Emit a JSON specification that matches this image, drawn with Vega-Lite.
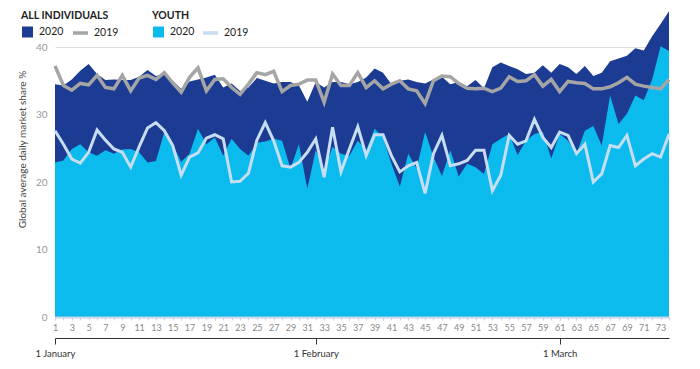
{
  "$schema": "https://vega.github.io/schema/vega-lite/v6.json",
  "width": 614,
  "height": 270,
  "autosize": {"type": "none"},
  "padding": {"left": 55, "top": 47, "right": 31, "bottom": 52},
  "config": {
    "view": {"stroke": null},
    "font": "Lato",
    "legend": {
      "padding": 0,
      "orient": "none",
      "direction": "horizontal",
      "titleFont": "Lato",
      "titleFontSize": 10.5,
      "titleFontWeight": "bold",
      "titleColor": "#222222",
      "titlePadding": 2,
      "labelFont": "Lato",
      "labelFontSize": 10.5,
      "labelColor": "#222222",
      "labelOffset": 5,
      "symbolOpacity": 1
    }
  },
  "data": {"values": [
    {"day": 1, "all2020": 34.5, "youth2020": 22.9, "all2019": 37.2, "youth2019": 27.6},
    {"day": 2, "all2020": 34.3, "youth2020": 23.2, "all2019": 34.3, "youth2019": 25.6},
    {"day": 3, "all2020": 35.2, "youth2020": 24.9, "all2019": 33.6, "youth2019": 23.4},
    {"day": 4, "all2020": 36.5, "youth2020": 25.6, "all2019": 34.6, "youth2019": 22.8},
    {"day": 5, "all2020": 37.5, "youth2020": 24.4, "all2019": 34.4, "youth2019": 24.4},
    {"day": 6, "all2020": 36.0, "youth2020": 23.9, "all2019": 35.8, "youth2019": 27.7},
    {"day": 7, "all2020": 35.1, "youth2020": 24.7, "all2019": 34.0, "youth2019": 26.2},
    {"day": 8, "all2020": 35.2, "youth2020": 24.2, "all2019": 33.8, "youth2019": 24.9},
    {"day": 9, "all2020": 35.1, "youth2020": 24.8, "all2019": 35.8, "youth2019": 24.4},
    {"day": 10, "all2020": 35.1, "youth2020": 24.9, "all2019": 33.5, "youth2019": 22.2},
    {"day": 11, "all2020": 35.6, "youth2020": 24.4, "all2019": 35.4, "youth2019": 25.2},
    {"day": 12, "all2020": 36.6, "youth2020": 22.9, "all2019": 35.8, "youth2019": 28.0},
    {"day": 13, "all2020": 35.7, "youth2020": 23.1, "all2019": 35.2, "youth2019": 28.8},
    {"day": 14, "all2020": 36.0, "youth2020": 27.4, "all2019": 36.2, "youth2019": 27.6},
    {"day": 15, "all2020": 35.0, "youth2020": 25.6, "all2019": 34.7, "youth2019": 25.4},
    {"day": 16, "all2020": 33.8, "youth2020": 23.0, "all2019": 33.3, "youth2019": 21.0},
    {"day": 17, "all2020": 34.9, "youth2020": 24.2, "all2019": 35.5, "youth2019": 23.7},
    {"day": 18, "all2020": 35.2, "youth2020": 27.9, "all2019": 36.9, "youth2019": 24.3},
    {"day": 19, "all2020": 35.5, "youth2020": 25.6, "all2019": 33.5, "youth2019": 26.5},
    {"day": 20, "all2020": 35.9, "youth2020": 26.6, "all2019": 35.2, "youth2019": 27.0},
    {"day": 21, "all2020": 34.0, "youth2020": 23.9, "all2019": 35.3, "youth2019": 26.4},
    {"day": 22, "all2020": 34.6, "youth2020": 26.4, "all2019": 34.0, "youth2019": 20.0},
    {"day": 23, "all2020": 33.5, "youth2020": 24.9, "all2019": 33.0, "youth2019": 20.1},
    {"day": 24, "all2020": 34.0, "youth2020": 23.9, "all2019": 34.5, "youth2019": 21.3},
    {"day": 25, "all2020": 35.4, "youth2020": 25.8, "all2019": 36.2, "youth2019": 26.2},
    {"day": 26, "all2020": 35.0, "youth2020": 26.0, "all2019": 35.9, "youth2019": 28.8},
    {"day": 27, "all2020": 34.6, "youth2020": 26.4, "all2019": 36.4, "youth2019": 26.1},
    {"day": 28, "all2020": 34.8, "youth2020": 26.1, "all2019": 33.4, "youth2019": 22.4},
    {"day": 29, "all2020": 34.8, "youth2020": 22.0, "all2019": 34.3, "youth2019": 22.2},
    {"day": 30, "all2020": 34.3, "youth2020": 25.6, "all2019": 34.5, "youth2019": 22.9},
    {"day": 31, "all2020": 31.9, "youth2020": 19.0, "all2019": 35.1, "youth2019": 24.4},
    {"day": 32, "all2020": 34.8, "youth2020": 24.7, "all2019": 35.1, "youth2019": 26.4},
    {"day": 33, "all2020": 34.0, "youth2020": 21.7, "all2019": 31.8, "youth2019": 20.7},
    {"day": 34, "all2020": 34.8, "youth2020": 25.2, "all2019": 36.0, "youth2019": 28.1},
    {"day": 35, "all2020": 34.8, "youth2020": 24.2, "all2019": 34.3, "youth2019": 21.5},
    {"day": 36, "all2020": 34.5, "youth2020": 23.9, "all2019": 34.3, "youth2019": 24.9},
    {"day": 37, "all2020": 34.8, "youth2020": 26.1, "all2019": 36.2, "youth2019": 28.2},
    {"day": 38, "all2020": 35.5, "youth2020": 24.7, "all2019": 34.0, "youth2019": 23.9},
    {"day": 39, "all2020": 36.8, "youth2020": 27.9, "all2019": 35.0, "youth2019": 27.0},
    {"day": 40, "all2020": 36.2, "youth2020": 26.6, "all2019": 33.8, "youth2019": 27.0},
    {"day": 41, "all2020": 34.5, "youth2020": 22.7, "all2019": 34.5, "youth2019": 23.9},
    {"day": 42, "all2020": 35.0, "youth2020": 19.3, "all2019": 35.0, "youth2019": 21.5},
    {"day": 43, "all2020": 35.2, "youth2020": 24.2, "all2019": 33.8, "youth2019": 22.4},
    {"day": 44, "all2020": 34.8, "youth2020": 22.0, "all2019": 33.5, "youth2019": 22.9},
    {"day": 45, "all2020": 34.6, "youth2020": 27.4, "all2019": 31.6, "youth2019": 18.3},
    {"day": 46, "all2020": 35.2, "youth2020": 23.7, "all2019": 35.0, "youth2019": 24.2},
    {"day": 47, "all2020": 35.6, "youth2020": 20.9, "all2019": 35.7, "youth2019": 26.9},
    {"day": 48, "all2020": 34.5, "youth2020": 24.7, "all2019": 35.6, "youth2019": 22.4},
    {"day": 49, "all2020": 34.8, "youth2020": 20.8, "all2019": 34.6, "youth2019": 22.7},
    {"day": 50, "all2020": 34.2, "youth2020": 22.7, "all2019": 33.9, "youth2019": 23.2},
    {"day": 51, "all2020": 35.1, "youth2020": 22.2, "all2019": 33.8, "youth2019": 24.7},
    {"day": 52, "all2020": 33.9, "youth2020": 21.2, "all2019": 33.9, "youth2019": 24.7},
    {"day": 53, "all2020": 37.0, "youth2020": 25.6, "all2019": 33.4, "youth2019": 18.7},
    {"day": 54, "all2020": 37.7, "youth2020": 26.4, "all2019": 33.9, "youth2019": 21.0},
    {"day": 55, "all2020": 37.2, "youth2020": 27.1, "all2019": 35.6, "youth2019": 26.9},
    {"day": 56, "all2020": 36.7, "youth2020": 24.0, "all2019": 34.9, "youth2019": 25.6},
    {"day": 57, "all2020": 36.0, "youth2020": 26.1, "all2019": 35.0, "youth2019": 26.1},
    {"day": 58, "all2020": 36.2, "youth2020": 27.1, "all2019": 35.9, "youth2019": 29.3},
    {"day": 59, "all2020": 37.3, "youth2020": 27.4, "all2019": 34.2, "youth2019": 26.6},
    {"day": 60, "all2020": 36.2, "youth2020": 23.5, "all2019": 35.2, "youth2019": 25.1},
    {"day": 61, "all2020": 37.5, "youth2020": 27.1, "all2019": 33.4, "youth2019": 27.4},
    {"day": 62, "all2020": 37.0, "youth2020": 26.1, "all2019": 34.9, "youth2019": 26.9},
    {"day": 63, "all2020": 36.0, "youth2020": 24.2, "all2019": 34.7, "youth2019": 24.2},
    {"day": 64, "all2020": 37.2, "youth2020": 27.6, "all2019": 34.6, "youth2019": 25.6},
    {"day": 65, "all2020": 35.7, "youth2020": 28.3, "all2019": 33.8, "youth2019": 20.0},
    {"day": 66, "all2020": 36.2, "youth2020": 25.4, "all2019": 33.8, "youth2019": 21.2},
    {"day": 67, "all2020": 37.9, "youth2020": 32.8, "all2019": 34.1, "youth2019": 25.4},
    {"day": 68, "all2020": 38.3, "youth2020": 28.6, "all2019": 34.7, "youth2019": 25.1},
    {"day": 69, "all2020": 38.7, "youth2020": 30.1, "all2019": 35.5, "youth2019": 26.9},
    {"day": 70, "all2020": 39.8, "youth2020": 32.8, "all2019": 34.5, "youth2019": 22.4},
    {"day": 71, "all2020": 39.5, "youth2020": 32.1, "all2019": 34.2, "youth2019": 23.4},
    {"day": 72, "all2020": 41.6, "youth2020": 35.2, "all2019": 34.0, "youth2019": 24.2},
    {"day": 73, "all2020": 43.4, "youth2020": 40.1, "all2019": 33.8, "youth2019": 23.7},
    {"day": 74, "all2020": 45.3, "youth2020": 39.4, "all2019": 35.2, "youth2019": 27.1}
  ]},
  "layer": [
    {
      "mark": {"type": "area"},
      "encoding": {
        "x": {
          "field": "day", "type": "quantitative",
          "scale": {"domain": [1, 74], "nice": false, "zero": false},
          "axis": {
            "values": [1,2,3,4,5,6,7,8,9,10,11,12,13,14,15,16,17,18,19,20,21,22,23,24,25,26,27,28,29,30,31,32,33,34,35,36,37,38,39,40,41,42,43,44,45,46,47,48,49,50,51,52,53,54,55,56,57,58,59,60,61,62,63,64,65,66,67,68,69,70,71,72,73,74],
            "labelExpr": "datum.value % 2 == 1 ? datum.label : ''",
            "title": null,
            "grid": false,
            "zindex": 1,
            "domainColor": "#c9d6ea",
            "domainWidth": 2,
            "tickColor": "#c9d6ea",
            "tickSize": 3,
            "labelFont": "Lato",
            "labelFontSize": 9,
            "labelColor": "#888888",
            "labelPadding": 3,
            "labelOverlap": false,
            "labelFlush": false
          }
        },
        "y": {
          "field": "all2020", "type": "quantitative",
          "scale": {"domain": [0, 40], "nice": false},
          "axis": {
            "orient": "left",
            "values": [0, 10, 20, 30, 40],
            "title": "Global average daily market share %",
            "titleFont": "Lato",
            "titleFontSize": 10,
            "titleFontWeight": "normal",
            "titleColor": "#444444",
            "titleX": -33,
            "titleY": 102,
            "titleAngle": -90,
            "titleAlign": "center",
            "titleBaseline": "middle",
            "domain": false,
            "ticks": false,
            "labelPadding": 8,
            "labelFont": "Lato",
            "labelFontSize": 10,
            "labelColor": "#999999",
            "gridColor": "#dddddd",
            "gridWidth": 1
          }
        },
        "color": {
          "datum": "All 2020",
          "scale": {"domain": ["All 2020"], "range": ["#1c3c94"]},
          "legend": {
            "title": "ALL INDIVIDUALS",
            "legendX": -34,
            "legendY": -36,
            "titlePadding": 4,
            "symbolType": "square",
            "symbolSize": 121,
            "labelExpr": "replace(datum.label, 'All ', '')"
          }
        }
      }
    },
    {
      "mark": {"type": "area"},
      "encoding": {
        "x": {"field": "day", "type": "quantitative", "scale": {"domain": [1, 74], "nice": false, "zero": false}, "axis": null},
        "y": {"field": "youth2020", "type": "quantitative", "scale": {"domain": [0, 40], "nice": false}, "axis": null},
        "color": {
          "datum": "Youth 2020",
          "scale": {"domain": ["Youth 2020"], "range": ["#0cbbee"]},
          "legend": {
            "title": "YOUTH",
            "legendX": 97,
            "legendY": -36,
            "titlePadding": 4,
            "symbolType": "square",
            "symbolSize": 121,
            "labelExpr": "replace(datum.label, 'Youth ', '')"
          }
        }
      }
    },
    {
      "mark": {"type": "line", "strokeWidth": 3.5, "strokeJoin": "miter"},
      "encoding": {
        "x": {"field": "day", "type": "quantitative", "scale": {"domain": [1, 74], "nice": false, "zero": false}, "axis": null},
        "y": {"field": "all2019", "type": "quantitative", "scale": {"domain": [0, 40], "nice": false}, "axis": null},
        "color": {
          "datum": "All 2019",
          "scale": {"domain": ["All 2019"], "range": ["#a5a5a5"]},
          "legend": {
            "title": " ",
            "legendX": 16,
            "legendY": -36,
            "symbolType": "stroke",
            "symbolSize": 225,
            "symbolStrokeWidth": 3.5,
            "labelOffset": 4,
            "labelExpr": "replace(datum.label, 'All ', '')"
          }
        }
      }
    },
    {
      "mark": {"type": "line", "strokeWidth": 3, "strokeJoin": "miter"},
      "encoding": {
        "x": {
          "field": "day", "type": "quantitative",
          "scale": {"domain": [1, 74], "nice": false, "zero": false},
          "axis": {
            "orient": "bottom",
            "offset": 21,
            "values": [1, 32, 61],
            "labelExpr": "datum.value == 1 ? '1 January' : (datum.value == 32 ? '1 February' : '1 March')",
            "title": null,
            "grid": false,
            "domainColor": "#333333",
            "domainWidth": 1,
            "tickColor": "#333333",
            "tickSize": 6,
            "labelFont": "Lato",
            "labelFontSize": 9.5,
            "labelColor": "#333333",
            "labelPadding": 4,
            "labelFlush": false,
            "labelOverlap": false
          }
        },
        "y": {"field": "youth2019", "type": "quantitative", "scale": {"domain": [0, 40], "nice": false}, "axis": null},
        "color": {
          "datum": "Youth 2019",
          "scale": {"domain": ["Youth 2019"], "range": ["#c7ddf1"]},
          "legend": {
            "title": " ",
            "legendX": 146,
            "legendY": -36,
            "symbolType": "stroke",
            "symbolSize": 225,
            "symbolStrokeWidth": 3.5,
            "labelOffset": 4,
            "labelExpr": "replace(datum.label, 'Youth ', '')"
          }
        }
      }
    }
  ],
  "resolve": {
    "scale": {"color": "independent"},
    "axis": {"x": "independent", "y": "independent"}
  }
}
